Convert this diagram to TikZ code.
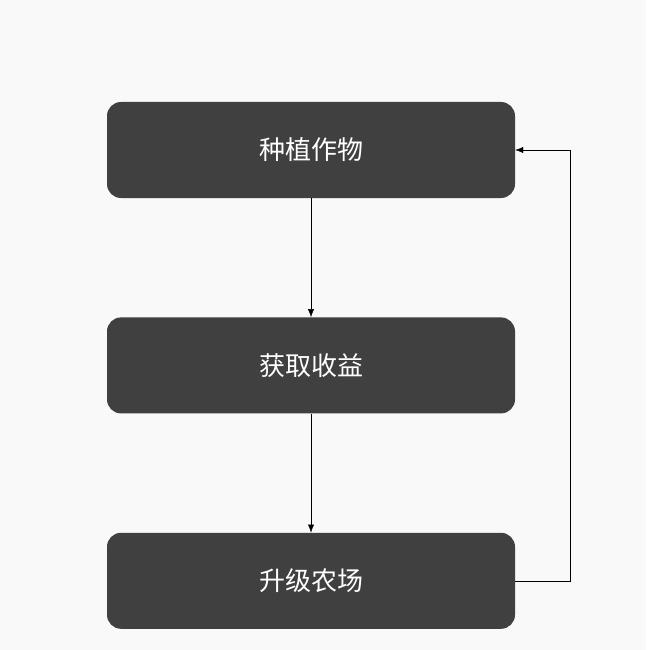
\documentclass[tikz,border=0pt]{standalone}
\usepackage{fontspec}
\newfontfamily\cjk{Noto Sans CJK SC}
\usetikzlibrary{positioning, arrows.meta}
\definecolor{boxgray}{HTML}{404040}
\definecolor{bggray}{HTML}{F9F9F9}
\begin{document}
\begin{tikzpicture}[ x = 1pt, y = -1pt
                     , node distance = 119pt
                     , font = \cjk\fontsize{26}{30}\selectfont
                     , >={Latex[width=6pt, length=8pt]}
                     , stage/.style = { rectangle
                                      , rounded corners = 14pt
                                      , fill = boxgray
                                      , text = white
                                      , minimum width = 408pt
                                      , minimum height = 96pt }
                     ]

  \fill[bggray] (0,0) rectangle (646,650);

  \node (plant) [stage] at (311,150) {种植作物};
  \node (earn) [stage, below = of plant] {获取收益};
  \node (upgrade) [stage, below = of earn] {升级农场};

  \coordinate (loop) at (570,0);

  \draw[->] (plant) -- (earn);
  \draw[->] (earn) -- (upgrade);
  \draw[->] (upgrade.east) -- (upgrade.east -| loop) -- (plant.east -| loop) -- (plant.east);

\end{tikzpicture}
\end{document}
